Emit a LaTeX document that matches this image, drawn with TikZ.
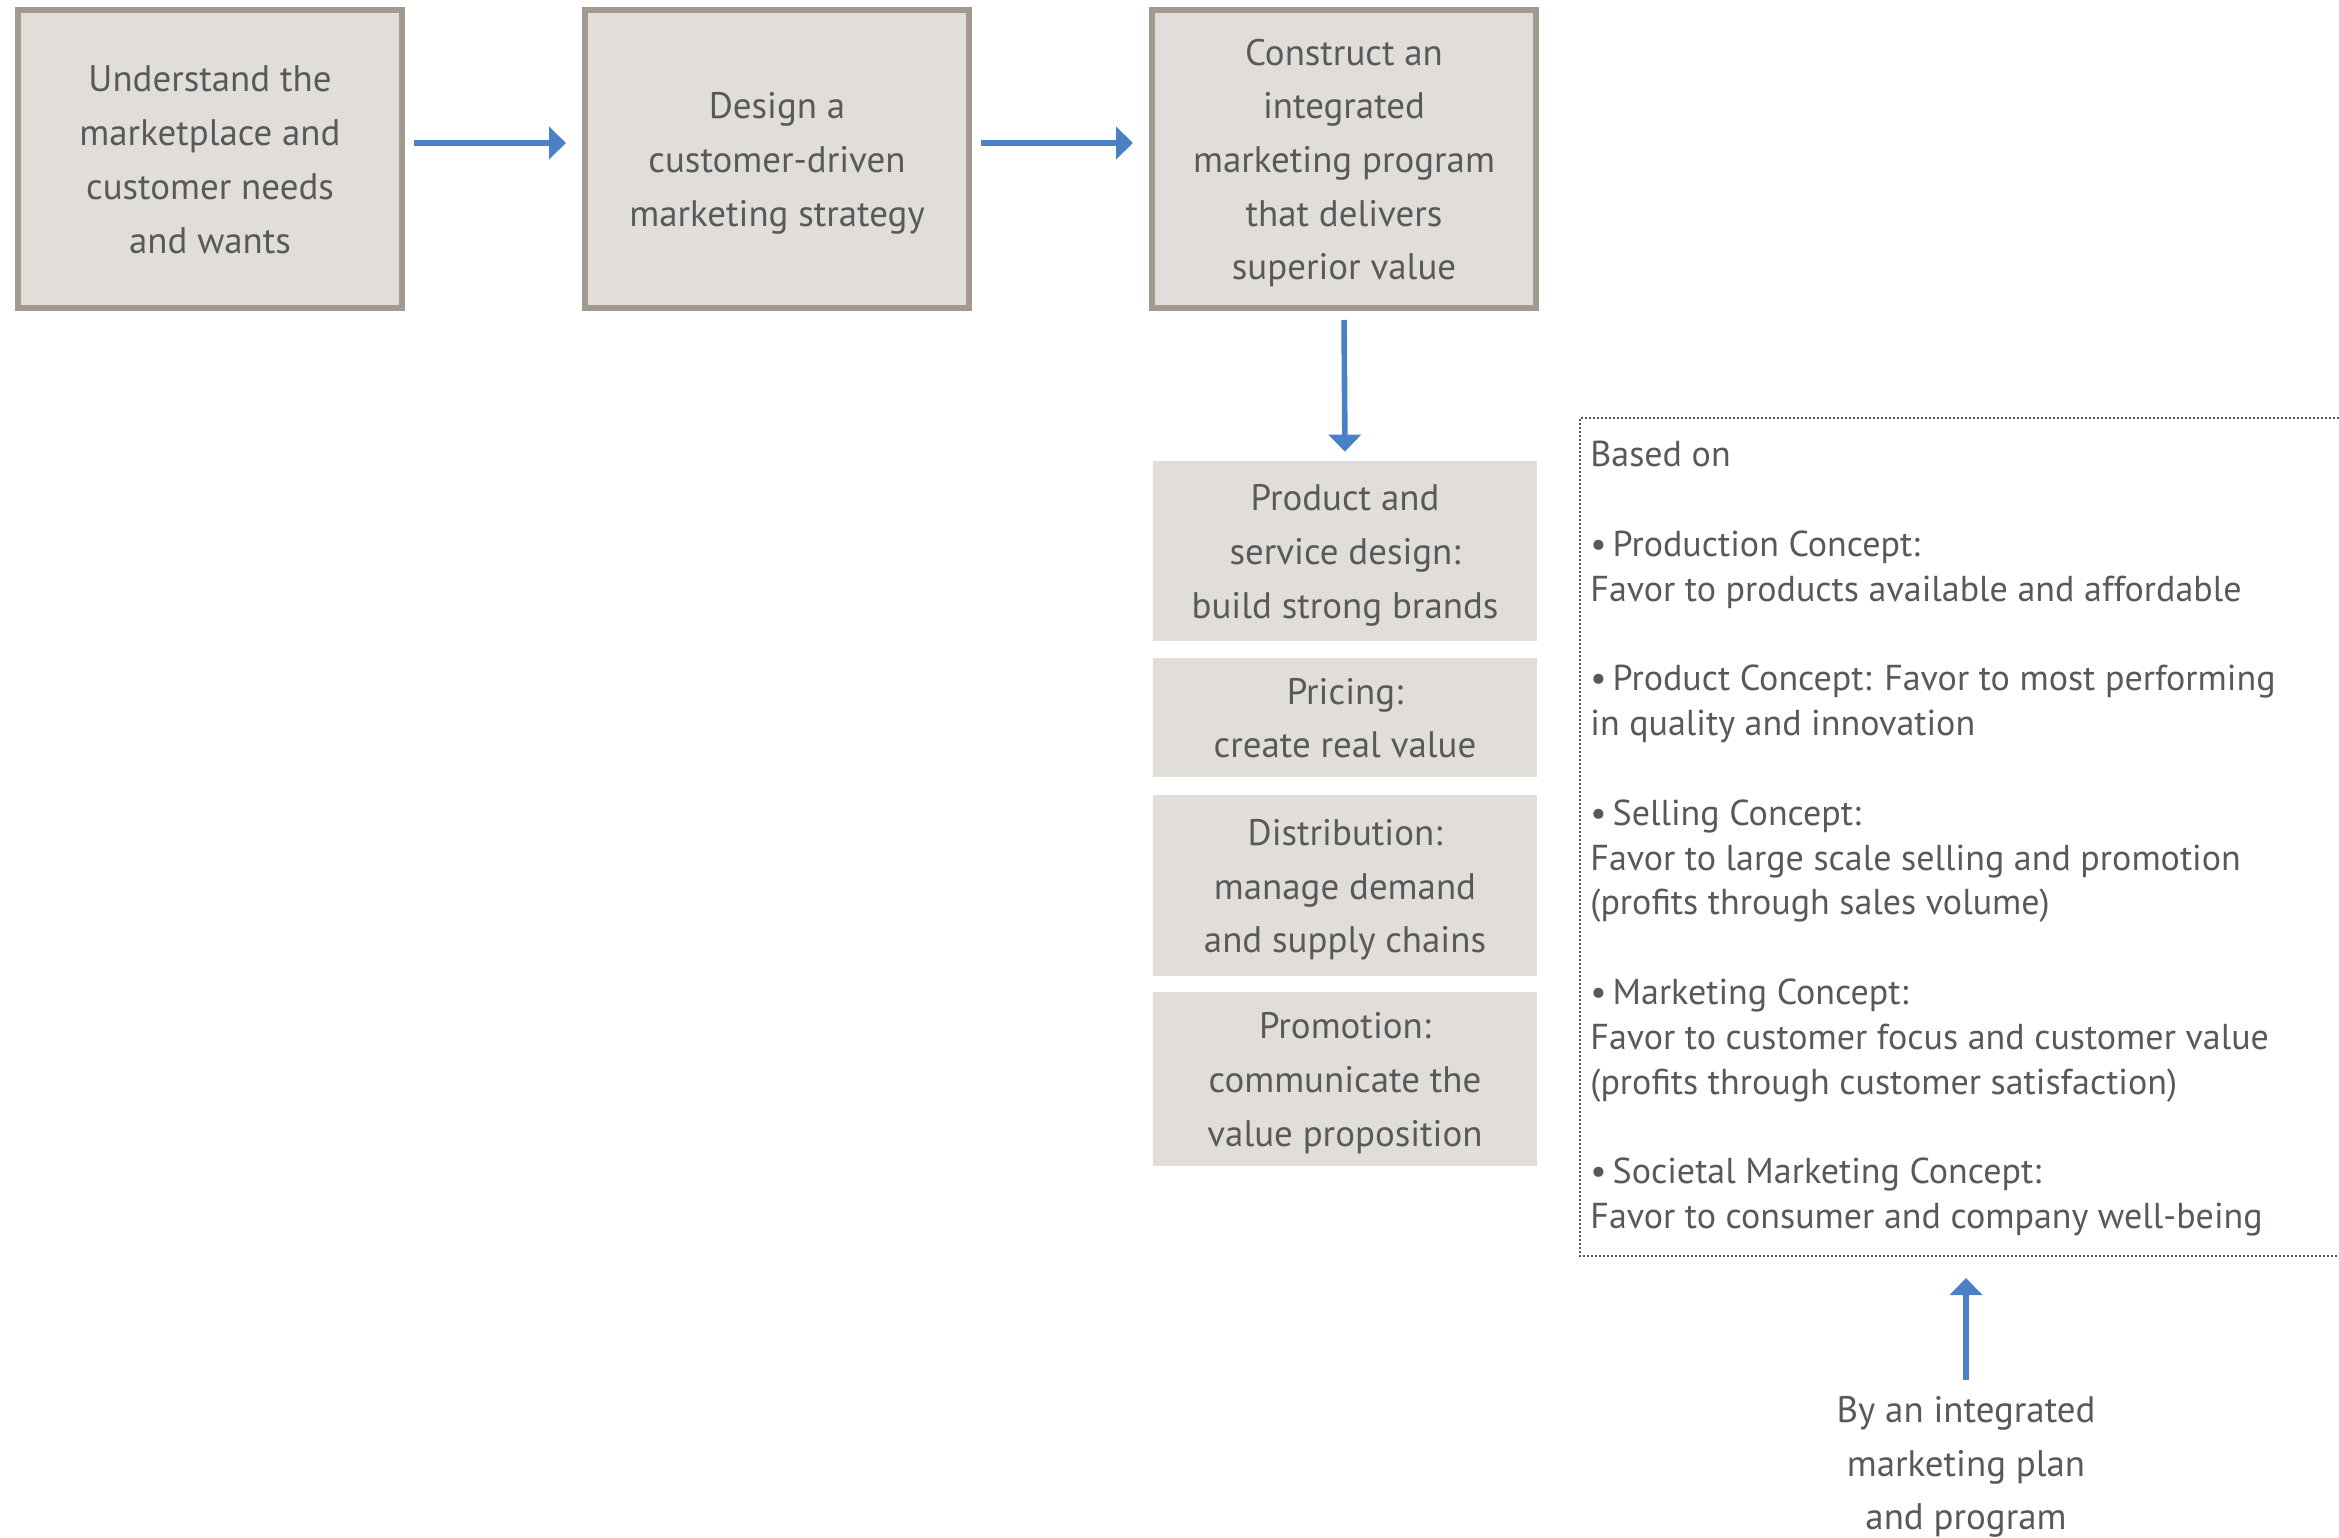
\documentclass[tikz,border=0pt]{standalone}
\usepackage{fontspec}
\setmainfont{PT Sans}
\usetikzlibrary{arrows.meta}
\definecolor{boxfill}{HTML}{E1DED9}
\definecolor{boxline}{HTML}{A29A8E}
\definecolor{inktext}{HTML}{58595B}
\definecolor{flowblue}{HTML}{4A80C4}
\definecolor{dotline}{HTML}{555555}

% centred lines of box text, set a little below the middle of the box
\newcommand{\lowstack}[1]{\raisebox{-1.4pt}[\height][\depth]{\begin{tabular}{@{}c@{}}#1\end{tabular}}}

\begin{document}
\begin{tikzpicture}[x=0.5pt,y=-0.5pt,
  boxfont/.style={font=\fontsize{18.45}{26.85}\selectfont},
  stage/.style={draw=boxline, fill=boxfill, line width=3pt,
    minimum width=192pt, minimum height=149pt, inner sep=0pt,
    text=inktext, boxfont},
  mixbox/.style={fill=boxfill, minimum width=192pt, inner sep=0pt,
    text=inktext, boxfont},
  flow/.style={draw=flowblue, line width=2.8pt,
    -{Triangle[length=8.5pt,width=16pt]}},
  note/.style={inner sep=0pt, text=inktext}
]
% canvas
\path[use as bounding box, fill=white] (0,0) rectangle (2339,1537);

% main stages
\node[stage] (s1) at (210,159) {\lowstack{Understand the\\marketplace and\\customer needs\\and wants}};
\node[stage] (s2) at (777,159) {\lowstack{Design a\\customer-driven\\marketing strategy}};
\node[stage] (s3) at (1344,159) {\lowstack{Construct an\\integrated\\marketing program\\that delivers\\superior value}};

\draw[flow, shorten <=4.5pt, shorten >=8pt] ([yshift=8pt]s1.east) -- ([yshift=8pt]s2.west);
\draw[flow, shorten <=4.5pt, shorten >=8pt] ([yshift=8pt]s2.east) -- ([yshift=8pt]s3.west);

% marketing mix
\node[mixbox, minimum height=90pt] (mp) at (1345,551) {\lowstack{Product and\\service design:\\build strong brands}};
\node[mixbox, minimum height=59.5pt] (mr) at (1345,717.5) {\lowstack{Pricing:\\create real value}};
\node[mixbox, minimum height=90.5pt] (md) at (1345,885.5) {\lowstack{Distribution:\\manage demand\\and supply chains}};
\node[mixbox, minimum height=87pt] (mo) at (1345,1079) {\lowstack{Promotion:\\communicate the\\value proposition}};

\draw[flow, shorten <=4.5pt, shorten >=4.5pt] (s3.south) -- (mp.north);

% concepts frame
\draw[dotline, line width=0.8pt, dash pattern=on 0.8pt off 1.2pt]
  (2339,418) -- (1580,418) -- (1580,1256) -- (2339,1256);
\coordinate (frameBottom) at (1966,1256);

\node[note, anchor=north west, align=left, font=\fontsize{18}{22.4}\selectfont] (concepts) at (1590,441)
 {Based on\\[22.4pt]
  \textbullet\,Production Concept:\\
  Favor to products available and affordable\\[22.4pt]
  \textbullet\,Product Concept: Favor to most performing\\
  in quality and innovation\\[22.4pt]
  \textbullet\,Selling Concept:\\
  Favor to large scale selling and promotion\\
  (profits through sales volume)\\[22.4pt]
  \textbullet\,Marketing Concept:\\
  Favor to customer focus and customer value\\
  (profits through customer satisfaction)\\[22.4pt]
  \textbullet\,Societal Marketing Concept:\\
  Favor to consumer and company well-being};

\node[note, align=center, boxfont] (plan) at (1966,1467)
 {By an integrated\\marketing plan\\and program};

\draw[flow, shorten <=8pt, shorten >=11pt] (plan.north) -- (frameBottom);
\end{tikzpicture}
\end{document}
